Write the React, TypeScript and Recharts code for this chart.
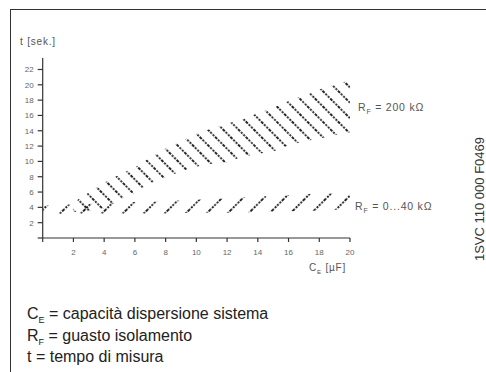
import { ComposedChart, Area, XAxis, YAxis } from 'recharts'

// CE [µF] axis and t [sek.] axis ticks
const ceTicks = [0, 2, 4, 6, 8, 10, 12, 14, 16, 18, 20]
const tTicks = [0, 2, 4, 6, 8, 10, 12, 14, 16, 18, 20, 22]

// RF = 200 kΩ band (lower / upper edge of the hatched area)
const highCe = [2, 3, 4, 5, 6, 7, 8, 9, 10, 11, 12, 13, 14, 15, 16, 17, 18, 19, 20]
const highMin = [3.4, 3.5, 3.9, 5.0, 5.9, 7.1, 7.9, 8.7, 9.3, 9.7, 9.9, 10.6, 11.0, 11.3, 12.1, 12.6, 13.0, 13.4, 13.8]
const highMax = [4.6, 6.0, 7.2, 8.3, 9.2, 10.5, 11.7, 12.6, 13.6, 14.3, 14.9, 15.5, 16.3, 17.0, 17.9, 18.6, 19.4, 20.0, 20.6]

// RF = 0...40 kΩ band
const lowCe = [0, 2, 4, 6, 8, 10, 12, 14, 16, 18, 20]
const lowMin = [3.1, 3.2, 3.2, 3.2, 3.2, 3.3, 3.3, 3.4, 3.5, 3.6, 3.8]
const lowMax = [4.2, 4.4, 4.5, 4.7, 4.8, 5.0, 5.2, 5.4, 5.6, 5.8, 5.9]

const highData = highCe.map((ce, i) => ({ ce, t: [highMin[i], highMax[i]] }))
const lowData = lowCe.map((ce, i) => ({ ce, t: [lowMin[i], lowMax[i]] }))

const ink = '#333'
const font = '"Liberation Sans", Arial, sans-serif'
const subStyle = { fontSize: 9, lineHeight: 0 }
const smallSub = { fontSize: 7, lineHeight: 0 }

export default function App() {
    return (
        <div style={{ position: 'absolute', left: 0, top: 0, width: 486, height: 372, background: '#fff', overflow: 'hidden', fontFamily: font }}>
            {/* frame */}
            <div style={{ position: 'absolute', left: 10, top: 9, width: 520, height: 420, borderLeft: `1.5px solid ${ink}`, borderTop: `1.5px solid ${ink}` }} />

            <div style={{ position: 'absolute', left: 0, top: 0 }}>
                <ComposedChart width={486} height={280} margin={{ top: 58, right: 136, left: 0, bottom: 12 }}>
                    <defs>
                        <pattern id="hatchDown" patternUnits="userSpaceOnUse" width={10.86} height={10.86} patternTransform="rotate(-45)">
                            <line x1={1} y1={0} x2={1} y2={10.86} stroke="#111" strokeWidth={1.8} strokeDasharray="2 1.3" />
                        </pattern>
                        <pattern id="hatchUp" patternUnits="userSpaceOnUse" width={14.8} height={14.8} patternTransform="rotate(45)">
                            <line x1={1} y1={0} x2={1} y2={14.8} stroke="#111" strokeWidth={1.8} strokeDasharray="2 1.3" />
                        </pattern>
                    </defs>
                    <XAxis
                        type="number"
                        dataKey="ce"
                        domain={[0, 20]}
                        ticks={ceTicks}
                        height={30}
                        tickSize={4}
                        tickMargin={7}
                        tick={{ fontSize: 8, fill: '#666', fontFamily: font }}
                        tickFormatter={(v: number) => (v === 0 ? '' : String(v))}
                        axisLine={{ stroke: ink, strokeWidth: 1.2 }}
                        tickLine={{ stroke: ink, strokeWidth: 1.2 }}
                        allowDuplicatedCategory={false}
                    />
                    <YAxis
                        type="number"
                        domain={[0, 23.5]}
                        ticks={tTicks}
                        width={42.7}
                        tickSize={5}
                        tickMargin={4}
                        tick={{ fontSize: 8, fill: '#666', fontFamily: font }}
                        tickFormatter={(v: number) => (v === 0 ? '' : String(v))}
                        axisLine={{ stroke: ink, strokeWidth: 1.2 }}
                        tickLine={{ stroke: ink, strokeWidth: 1.2 }}
                    />
                    <Area
                        data={lowData}
                        dataKey="t"
                        type="linear"
                        stroke="none"
                        fill="url(#hatchUp)"
                        fillOpacity={1}
                        isAnimationActive={false}
                    />
                    <Area
                        data={highData}
                        dataKey="t"
                        type="linear"
                        stroke="none"
                        fill="url(#hatchDown)"
                        fillOpacity={1}
                        isAnimationActive={false}
                    />
                </ComposedChart>
            </div>

            {/* axis titles */}
            <div style={{ position: 'absolute', left: 20, top: 36, fontSize: 10, letterSpacing: 0.8, color: '#555' }}>t [sek.]</div>
            <div style={{ position: 'absolute', left: 309, top: 262, fontSize: 10, letterSpacing: 0.8, color: '#555' }}>
                C<sub style={{ fontSize: 6, lineHeight: 0 }}>E</sub> [µF]
            </div>

            {/* band labels */}
            <div style={{ position: 'absolute', left: 358, top: 101, fontSize: 10.5, letterSpacing: 0.8, color: '#555' }}>
                R<sub style={smallSub}>F</sub> = 200 kΩ
            </div>
            <div style={{ position: 'absolute', left: 355, top: 200, fontSize: 10.5, letterSpacing: 0.8, color: '#555' }}>
                R<sub style={smallSub}>F</sub> = 0...40 kΩ
            </div>

            {/* drawing code */}
            <div style={{ position: 'absolute', left: 479, top: 199, transform: 'translate(-50%, -50%) rotate(-90deg)', fontSize: 13, color: '#333', whiteSpace: 'nowrap' }}>
                1SVC 110 000 F0469
            </div>

            {/* legend */}
            <div style={{ position: 'absolute', left: 27, top: 303, fontSize: 16, lineHeight: '21.5px', color: '#222' }}>
                <div>C<sub style={subStyle}>E</sub> = capacità dispersione sistema</div>
                <div>R<sub style={subStyle}>F</sub> = guasto isolamento</div>
                <div>t = tempo di misura</div>
            </div>
        </div>
    )
}
